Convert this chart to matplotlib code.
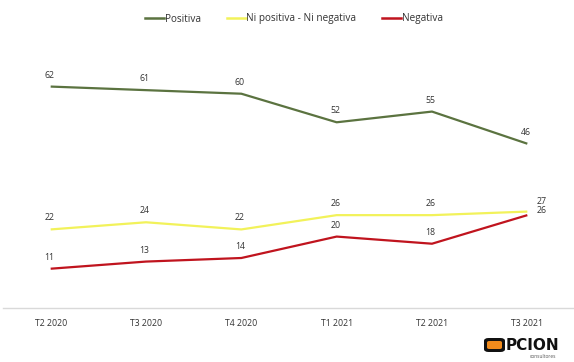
import matplotlib
matplotlib.use("Agg")
import matplotlib.pyplot as plt
from matplotlib.patches import FancyBboxPatch
from matplotlib.lines import Line2D

categories = ["T2 2020", "T3 2020", "T4 2020", "T1 2021", "T2 2021", "T3 2021"]
positiva = [62, 61, 60, 52, 55, 46]
neutral = [22, 24, 22, 26, 26, 27]
negativa = [11, 13, 14, 20, 18, 26]

series_names = ["Positiva", "Ni positiva - Ni negativa", "Negativa"]
colors = ["#5b7340", "#f2f25a", "#c0141e"]

plt.rcParams['font.family'] = ['Open Sans', 'DejaVu Sans']

W, H = 574, 362
fig = plt.figure(figsize=(W / 100, H / 100), dpi=100)
ax = fig.add_axes([3 / W, 1 - 308 / H, 572 / W, 250 / H])

x = list(range(len(categories)))
for vals, c, name in zip([positiva, neutral, negativa], colors, series_names):
    ax.plot(x, vals, color=c, lw=1.6, solid_capstyle='butt', label=name)

txt_color = "#333333"
fs = 6.3
for i in range(len(categories) - 1):
    for vals in (positiva, neutral, negativa):
        ax.annotate(str(vals[i]), (x[i], vals[i]), xytext=(-1, 5), textcoords='offset points',
                    ha='center', va='bottom', fontsize=fs, color=txt_color)
ax.annotate(str(positiva[-1]), (x[-1], positiva[-1]), xytext=(-1, 5), textcoords='offset points',
            ha='center', va='bottom', fontsize=fs, color=txt_color)
# last point labels to the right
ax.annotate(str(neutral[-1]), (x[-1], neutral[-1]), xytext=(7, 7), textcoords='offset points',
            ha='left', va='center', fontsize=fs, color=txt_color)
ax.annotate(str(negativa[-1]), (x[-1], negativa[-1]), xytext=(7, 3.6), textcoords='offset points',
            ha='left', va='center', fontsize=fs, color=txt_color)

ax.set_xlim(-0.5, len(categories) - 0.5)
ax.set_ylim(0, 70)
ax.set_yticks([])
ax.set_xticks(x)
ax.set_xticklabels(categories, fontsize=fs, color=txt_color)
ax.tick_params(axis='x', length=0, pad=8)
for s in ['top', 'right', 'left']:
    ax.spines[s].set_visible(False)
ax.spines['bottom'].set_color('#d9d9d9')
ax.spines['bottom'].set_linewidth(1.0)

# legend
handles = [Line2D([0], [0], color=c, lw=1.8) for c in colors]
leg = fig.legend(handles, series_names, loc='center', bbox_to_anchor=(294 / W, 1 - 19 / H),
                 ncol=3, frameon=False, fontsize=7.2, handlelength=1.9, handletextpad=0.05,
                 columnspacing=2.6)
for t in leg.get_texts():
    t.set_color(txt_color)

# logo
box = FancyBboxPatch((484 / W, 1 - 352 / H), 21 / W, 14 / H,
                     boxstyle="round,pad=0,rounding_size=0.008", transform=fig.transFigure,
                     facecolor="#111111", edgecolor="none")
fig.add_artist(box)
inner = FancyBboxPatch((487 / W, 1 - 349 / H), 15 / W, 8 / H,
                       boxstyle="round,pad=0,rounding_size=0.004", transform=fig.transFigure,
                       facecolor="#f08a1c", edgecolor="none")
fig.add_artist(inner)
fig.text(506 / W, 1 - 345 / H, "PCION", fontsize=11, fontweight='bold', color="#111111",
         ha='left', va='center', family=['DejaVu Sans'])
fig.text(556 / W, 1 - 356 / H, "consultores", fontsize=3.5, color="#555555",
         ha='right', va='center')

fig.savefig("out.png", dpi=100, facecolor='white')
